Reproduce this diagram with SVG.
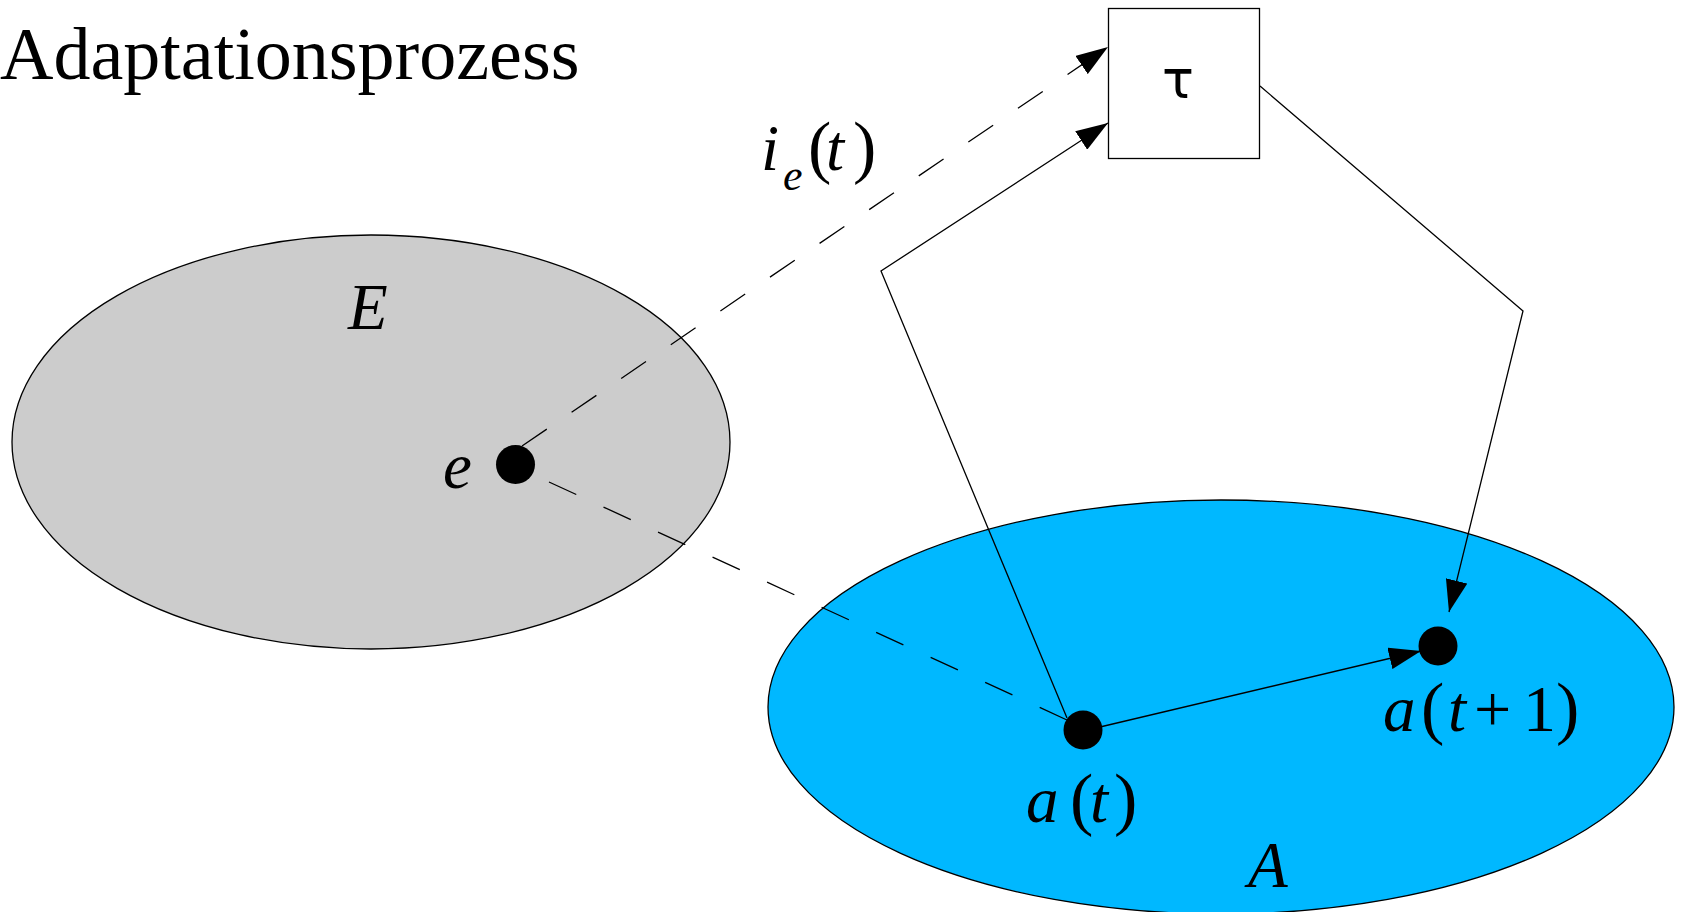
<svg xmlns="http://www.w3.org/2000/svg" width="1681" height="912" viewBox="0 0 1681 912">
<style>
.line{fill:none;stroke:#000;stroke-width:1.3}
.dash{stroke-dasharray:30 30}
.title{font-family:"Liberation Serif","Times New Roman",serif;font-size:74px;fill:#000}
.m{font-family:"Liberation Serif","Times New Roman",serif;font-style:italic;font-size:65px;fill:#000}
.p{font-style:normal;font-size:70px}
.tau{font-family:"DejaVu Sans",sans-serif;font-size:53px;fill:#000}
.dot{fill:#000}
</style>
<defs>
<marker id="arr" markerUnits="userSpaceOnUse" markerWidth="34" markerHeight="22" refX="32" refY="11" orient="auto">
<path d="M0,0 L32,11 L0,22 z" fill="#000"/>
</marker>
</defs>
<rect width="1681" height="912" fill="#fff"/>
<text class="title" x="0" y="79">Adaptationsprozess</text>
<g id="E">
<ellipse cx="371" cy="442" rx="359" ry="207" fill="#cccccc" stroke="#000" stroke-width="1.3"/>
<text class="m" x="348" y="329">E</text>
</g>
<g id="A">
<ellipse cx="1221" cy="707" rx="453" ry="207" fill="#00b8ff" stroke="#000" stroke-width="1.3"/>
<text class="m" x="1248" y="887">A</text>
</g>
<g id="tau">
<rect x="1108.5" y="8.5" width="151" height="150" fill="#fff" stroke="#000" stroke-width="1.3"/>
<text class="tau" x="1178" y="98" text-anchor="middle">τ</text>
</g>
<g id="connectors">
<path class="line dash" d="M522,446 L1108,47" marker-end="url(#arr)"/>
<path class="line dash" d="M549,482 L1067,720"/>
<path class="line" d="M1067,718 L881,271 L1108,123" marker-end="url(#arr)"/>
<path class="line" d="M1260,86 L1523,311 L1449,612" marker-end="url(#arr)"/>
<path class="line" d="M1100,727 L1421,651" marker-end="url(#arr)"/>
</g>
<g id="e">
<circle class="dot" cx="515.5" cy="464.5" r="19.5"/>
<text class="m" x="443" y="488">e</text>
</g>
<g id="at">
<circle class="dot" cx="1083" cy="730" r="19.5"/>
<text class="m" y="822"><tspan x="1026">a</tspan><tspan class="p" x="1070">(</tspan><tspan x="1090">t</tspan><tspan class="p" x="1114">)</tspan></text>
</g>
<g id="at1">
<circle class="dot" cx="1438" cy="646" r="19.5"/>
<text class="m" y="731"><tspan x="1383">a</tspan><tspan class="p" x="1421">(</tspan><tspan x="1448">t</tspan><tspan class="p" x="1474" style="font-size:66px">+</tspan><tspan class="p" x="1523" style="font-size:66px">1</tspan><tspan class="p" x="1556">)</tspan></text>
</g>
<g id="ie">
<text class="m" y="170"><tspan x="761">i</tspan><tspan x="783" y="190" style="font-size:44px">e</tspan><tspan class="p" x="808" y="170">(</tspan><tspan x="826">t</tspan><tspan class="p" x="853">)</tspan></text>
</g>
</svg>
